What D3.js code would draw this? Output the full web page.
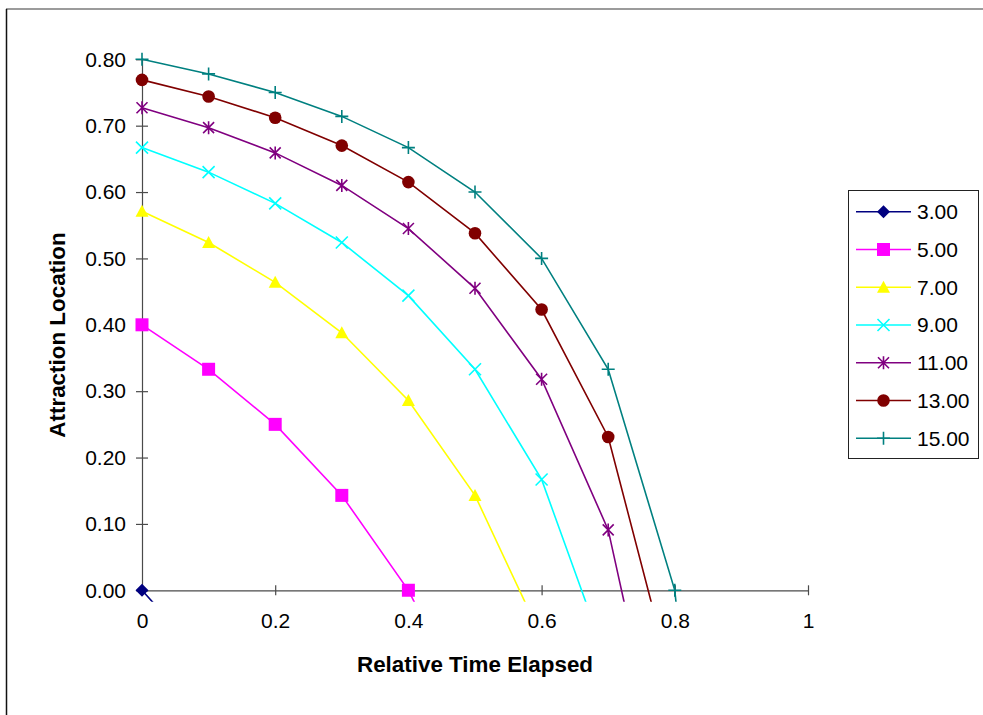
<!DOCTYPE html>
<html>
<head>
<meta charset="utf-8">
<script src="https://cdn.jsdelivr.net/npm/d3@7"></script>
<style>
	body { margin: 0; background: #fff; }
	svg { display: block; font-family: 'Liberation Sans', Arial, sans-serif; }
</style>
</head>
<body>
<div id="graph"></div>
<script>
// relative time elapsed (x)
var timeValues = [0, 0.1, 0.2, 0.3, 0.4, 0.5, 0.6, 0.7, 0.8, 0.9];

// attraction location (y) per series
var series3  = [0, -0.111, -0.25, -0.429, -0.667, -1, -1.5, -2.333, -4, -9];
var series5  = [0.4, 0.333, 0.25, 0.143, 0, -0.2, -0.5, -1, -2, -5];
var series7  = [0.571, 0.524, 0.464, 0.388, 0.286, 0.143, -0.071, -0.429, -1.143, -3.286];
var series9  = [0.667, 0.63, 0.583, 0.524, 0.444, 0.333, 0.167, -0.111, -0.667, -2.333];
var series11 = [0.727, 0.697, 0.659, 0.61, 0.545, 0.455, 0.318, 0.091, -0.364, -1.727];
var series13 = [0.769, 0.744, 0.712, 0.67, 0.615, 0.538, 0.423, 0.231, -0.154, -1.308];
var series15 = [0.8, 0.778, 0.75, 0.714, 0.667, 0.6, 0.5, 0.333, 0, -1];

var seriesNames = ['3.00', '5.00', '7.00', '9.00', '11.00', '13.00', '15.00'];
var seriesValues = [series3, series5, series7, series9, series11, series13, series15];

var xTicks = [0, 0.2, 0.4, 0.6, 0.8, 1];
var yTicks = [0, 0.1, 0.2, 0.3, 0.4, 0.5, 0.6, 0.7, 0.8];

var xTitle = 'Relative Time Elapsed';
var yTitle = 'Attraction Location';

// styling
var seriesColors = ['#000080', '#ff00ff', '#ffff00', '#00ffff', '#800080', '#800000', '#008080'];
var seriesMarkers = ['diamond', 'square', 'triangle', 'times', 'asterisk', 'circle', 'plus'];

var graphWidth = 983,
	graphHeight = 715;

var plotLeft = 142,
	plotRight = 808,
	plotTop = 59.3,
	plotBottom = 590.3;

var xScale = d3.scaleLinear()
				.domain([0, 1])
				.range([plotLeft, plotRight]);

var yScale = d3.scaleLinear()
				.domain([0, 0.8])
				.range([plotBottom, plotTop]);

var xAxis = d3.axisBottom(xScale)
				.tickValues(xTicks)
				.tickFormat(d3.format('~g'))
				.tickSizeOuter(0)
				.tickSizeInner(5)
				.tickPadding(18);

var yAxis = d3.axisLeft(yScale)
				.tickValues(yTicks)
				.tickFormat(d3.format('.2f'))
				.tickSizeOuter(0)
				.tickSizeInner(6)
				.tickPadding(10);

var svg = d3.select('#graph').append('svg')
			.attr('width', graphWidth)
			.attr('height', graphHeight);

var data = seriesNames.map(function(name, i) {
	return {
		name: name,
		color: seriesColors[i],
		marker: seriesMarkers[i],
		points: timeValues.map(function(t, j) { return [t, seriesValues[i][j]]; })
	};
});


function markerPath(kind) {
	switch(kind) {
		case 'diamond':
			return 'M0,-6.5L6.5,0L0,6.5L-6.5,0Z';
		case 'square':
			return 'M-6.5,-6.5H6.5V6.5H-6.5Z';
		case 'triangle':
			return 'M0,-6.5L6.5,5.5H-6.5Z';
		case 'times':
			return 'M-6,-6L6,6M-6,6L6,-6';
		case 'asterisk':
			return 'M-5.5,-5.5L5.5,5.5M-5.5,5.5L5.5,-5.5M0,-6.5V6.5';
		case 'plus':
			return 'M-6.5,0H6.5M0,-6.5V6.5';
	}
	return '';
}

function isStrokeMarker(kind) {
	return kind == 'times' || kind == 'asterisk' || kind == 'plus';
}

function drawMarker(sel, d) {
	if(d.marker == 'circle') {
		sel.append('circle')
			.attr('r', 6.3)
			.attr('fill', d.color);
	}
	else {
		sel.append('path')
			.attr('d', markerPath(d.marker))
			.attr('fill', isStrokeMarker(d.marker) ? 'none' : d.color)
			.attr('stroke', isStrokeMarker(d.marker) ? d.color : 'none')
			.attr('stroke-width', 1.6);
	}
}


function drawFrame() {
	svg.append('line')
		.attr('x1', 6).attr('y1', 9)
		.attr('x2', graphWidth).attr('y2', 9)
		.attr('stroke', '#7a7a7a')
		.attr('stroke-width', 1.5);

	svg.append('line')
		.attr('x1', 6.5).attr('y1', 9)
		.attr('x2', 6.5).attr('y2', graphHeight)
		.attr('stroke', '#111')
		.attr('stroke-width', 1.5);
}


function drawGraph() {
	var gx = svg.append('g')
		.attr('class', 'xAxis')
		.attr('transform', 'translate(0,' + plotBottom + ')')
		.call(xAxis);

	var gy = svg.append('g')
		.attr('class', 'yAxis')
		.attr('transform', 'translate(' + plotLeft + ',0)')
		.call(yAxis);

	// ticks cross the axis line
	gx.selectAll('.tick line')
		.attr('y1', -5)
		.attr('y2', 5);

	gy.selectAll('.tick line')
		.attr('x1', -6)
		.attr('x2', 6);

	svg.selectAll('.domain, .tick line')
		.attr('stroke', '#4a4a4a')
		.attr('stroke-width', 1.2);

	svg.selectAll('.tick text')
		.attr('fill', '#000')
		.style('font-size', '21px')
		.style('font-family', "'Liberation Sans', Arial, sans-serif");

	svg.append('text')
		.attr('x', (plotLeft + plotRight) / 2)
		.attr('y', 672)
		.attr('text-anchor', 'middle')
		.style('font-size', '22.4px')
		.style('font-weight', 'bold')
		.text(xTitle);

	svg.append('text')
		.attr('transform', 'translate(65,335) rotate(-90)')
		.attr('text-anchor', 'middle')
		.style('font-size', '22.4px')
		.style('font-weight', 'bold')
		.text(yTitle);
}


function drawSeries() {
	svg.append('clipPath')
		.attr('id', 'plot-clip')
		.append('rect')
			.attr('x', plotLeft - 20)
			.attr('y', plotTop - 20)
			.attr('width', plotRight - plotLeft + 40)
			.attr('height', plotBottom - plotTop + 31.4);

	var line = d3.line()
		.x(function(d) { return xScale(d[0]); })
		.y(function(d) { return yScale(d[1]); });

	var groups = svg.selectAll('.series').data(data).enter()
		.append('g')
			.attr('class', 'series')
			.attr('clip-path', 'url(#plot-clip)');

	groups.append('path')
		.attr('d', function(d) { return line(d.points); })
		.attr('fill', 'none')
		.attr('stroke', function(d) { return d.color; })
		.attr('stroke-width', 1.6);

	groups.each(function(d) {
		var g = d3.select(this);
		d.points.forEach(function(p) {
			if(p[1] < 0) return;
			var m = g.append('g')
				.attr('transform', 'translate(' + xScale(p[0]) + ',' + yScale(p[1]) + ')');
			drawMarker(m, d);
		});
	});
}


function drawLegend() {
	var legend = svg.append('g')
		.attr('class', 'legend');

	legend.append('rect')
		.attr('x', 848.5)
		.attr('y', 190.5)
		.attr('width', 130)
		.attr('height', 268)
		.attr('fill', '#fff')
		.attr('stroke', '#222')
		.attr('stroke-width', 1);

	var rows = legend.selectAll('.row').data(data).enter()
		.append('g')
			.attr('class', 'row')
			.attr('transform', function(d, i) {
				return 'translate(0,' + (211.7 + i * 37.77) + ')';
			});

	rows.append('line')
		.attr('x1', 856)
		.attr('x2', 911)
		.attr('stroke', function(d) { return d.color; })
		.attr('stroke-width', 1.6);

	rows.each(function(d) {
		var m = d3.select(this).append('g')
			.attr('transform', 'translate(883.5,0)');
		drawMarker(m, d);
	});

	rows.append('text')
		.attr('x', 917)
		.attr('y', 7.4)
		.style('font-size', '21px')
		.text(function(d) { return d.name; });
}

drawFrame();
drawGraph();
drawSeries();
drawLegend();
</script>
</body>
</html>
